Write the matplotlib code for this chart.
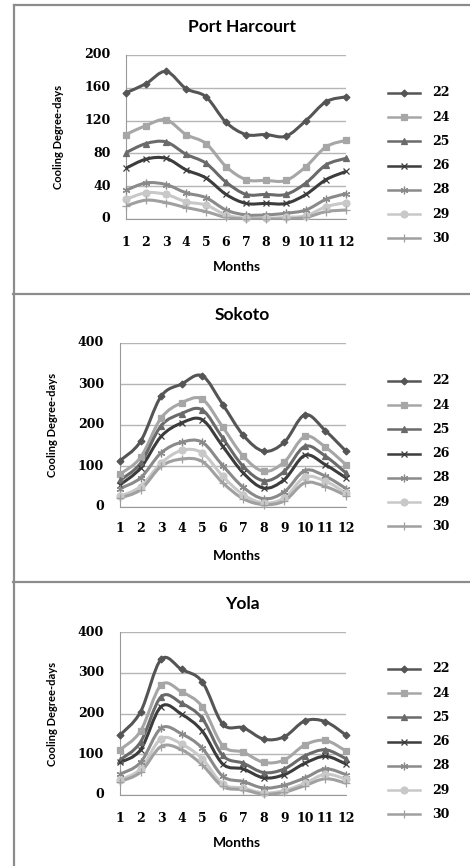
import numpy as np
import matplotlib
matplotlib.use("Agg")
import matplotlib.pyplot as plt
from matplotlib.path import Path
from matplotlib.patches import PathPatch
from matplotlib.lines import Line2D

months = list(range(1, 13))
base_temps = ["22", "24", "25", "26", "28", "29", "30"]

# cooling degree-days per base temperature, Jan..Dec
port_harcourt = [
    [154, 165, 180, 159, 149, 118, 103, 103, 101, 120, 143, 149],
    [103, 114, 121, 103, 92, 64, 48, 47, 47, 64, 88, 96],
    [81, 92, 94, 79, 68, 45, 30, 30, 30, 44, 66, 74],
    [62, 73, 74, 60, 50, 30, 19, 19, 19, 30, 48, 58],
    [35, 44, 42, 32, 26, 11, 5, 5, 7, 11, 24, 31],
    [24, 32, 30, 21, 17, 5, 1, 1, 2, 4, 15, 20],
    [16, 23, 20, 14, 9, 2, 0, 0, 0, 2, 9, 11],
]
sokoto = [
    [113, 160, 270, 300, 320, 250, 175, 136, 158, 225, 186, 136],
    [80, 121, 217, 254, 263, 195, 124, 87, 110, 172, 146, 103],
    [65, 107, 198, 228, 237, 168, 99, 64, 87, 148, 124, 83],
    [54, 95, 172, 205, 213, 148, 83, 46, 67, 126, 103, 71],
    [45, 71, 132, 158, 158, 101, 48, 20, 37, 89, 75, 45],
    [26, 50, 107, 138, 132, 75, 30, 10, 22, 73, 63, 34],
    [22, 42, 99, 117, 111, 59, 20, 6, 15, 59, 50, 28],
]
yola = [
    [147, 204, 333, 308, 278, 174, 165, 137, 143, 182, 180, 147],
    [111, 157, 270, 253, 217, 121, 105, 80, 86, 123, 134, 108],
    [86, 130, 241, 225, 188, 97, 78, 55, 64, 96, 111, 89],
    [80, 111, 217, 198, 157, 76, 64, 42, 50, 78, 95, 76],
    [51, 80, 164, 150, 115, 46, 33, 17, 24, 42, 64, 50],
    [37, 64, 138, 125, 89, 27, 17, 5, 11, 29, 51, 39],
    [33, 56, 119, 111, 74, 21, 13, 2, 7, 23, 40, 29],
]

colors = ["#555555", "#a6a6a6", "#6a6a6a", "#3c3c3c", "#8a8a8a", "#c8c8c8", "#a0a0a0"]
markers = ["D", "s", "^", "x", (6, 2, 0), "o", "+"]
msizes = [3.5, 5, 5, 5, 5.5, 5, 6]

tick_font = dict(family="DejaVu Serif", weight="bold", size=9)
label_font = dict(family="Lato", weight="bold")

W, H = 470, 866
fig = plt.figure(figsize=(W / 100, H / 100), dpi=100)


def smooth_path(xs, ys):
    # Excel-style smoothed line as cubic bezier segments through the points
    pts = np.column_stack([xs, ys]).astype(float)
    n = len(pts)
    verts = [pts[0]]
    codes = [Path.MOVETO]
    for i in range(n - 1):
        p0 = pts[i - 1] if i > 0 else pts[i]
        p1 = pts[i]
        p2 = pts[i + 1]
        p3 = pts[i + 2] if i + 2 < n else pts[i + 1]
        c1 = p1 + (p2 - p0) / 6.0
        c2 = p2 - (p3 - p1) / 6.0
        verts += [c1, c2, p2]
        codes += [Path.CURVE4] * 3
    return Path(verts, codes)


def fx(x):
    return x / W


def fy(y):
    return 1 - y / H


def panel(name, data, box, ymax, ystep, title_y, xt_y, months_y, leg_top):
    left, top, right, bottom = box
    ax = fig.add_axes([fx(left), fy(bottom), fx(right - left), (bottom - top) / H])
    for vals, c, m, ms in zip(data, colors, markers, msizes):
        ax.add_patch(PathPatch(smooth_path(months, vals), fill=False, edgecolor=c,
                               lw=2.2, zorder=3, capstyle="round", joinstyle="round"))
        ax.plot(months, vals, linestyle="none", marker=m, color=c, ms=ms,
                mew=0.9, zorder=4, clip_on=False)
    ax.set_xlim(1, 12)
    ax.set_ylim(0, ymax)
    ax.set_yticks(np.arange(0, ymax + 1, ystep))
    ax.set_xticks(months)
    ax.set_xticklabels([])
    ax.set_yticklabels([])
    ax.tick_params(length=0)
    ax.grid(axis="y", color="#b5b5b5", lw=1.0)
    ax.set_axisbelow(True)
    for s in ["top", "right"]:
        ax.spines[s].set_visible(False)
    ax.spines["left"].set_color("#999999")
    ax.spines["bottom"].set_color("#999999")
    # tick labels
    for v in np.arange(0, ymax + 1, ystep):
        ax.text(-0.07, v, str(int(v)), transform=ax.get_yaxis_transform(),
                ha="right", va="center", **tick_font)
    for mth in months:
        fig.text(fx(left + (right - left) * (mth - 1) / 11.0), fy(xt_y), str(mth),
                 ha="center", va="center", **tick_font)
    fig.text(fx(242), fy(title_y), name, ha="center", va="center", size=12.5, **label_font)
    fig.text(fx(237), fy(months_y), "Months", ha="center", va="center", size=10, **label_font)
    fig.text(fx(left - 68), fy((top + bottom) / 2), "Cooling Degree-days", rotation=90,
             ha="center", va="center", size=8, **label_font)
    # legend
    for i, (lab, c, m, ms) in enumerate(zip(base_temps, colors, markers, msizes)):
        yy = fy(leg_top + 24.2 * i)
        fig.add_artist(Line2D([fx(388), fx(420)], [yy, yy], color=c, lw=1.8,
                              transform=fig.transFigure))
        fig.add_artist(Line2D([fx(404)], [yy], color=c, marker=m, ms=ms, mew=0.9,
                              linestyle="none", transform=fig.transFigure))
        fig.text(fx(432), yy, lab, ha="left", va="center", **tick_font)
    return ax


panel("Port Harcourt", port_harcourt, (126, 55, 346, 219), 200, 40, 27, 242, 267, 93)
panel("Sokoto", sokoto, (120, 343, 346, 507), 400, 100, 315, 529, 556, 381)
panel("Yola", yola, (120, 632, 346, 795), 400, 100, 604, 818, 843, 669)

# panel frames
frame = dict(color="#8c8c8c", lw=1.6, transform=fig.transFigure)
fig.add_artist(Line2D([fx(14), fx(14)], [fy(5), fy(866)], **frame))
fig.add_artist(Line2D([fx(14), fx(470)], [fy(5), fy(5)], **frame))
fig.add_artist(Line2D([fx(13), fx(470)], [fy(294), fy(294)], **frame))
fig.add_artist(Line2D([fx(13), fx(470)], [fy(582), fy(582)], **frame))

fig.savefig("out.png", dpi=100, facecolor="white")
